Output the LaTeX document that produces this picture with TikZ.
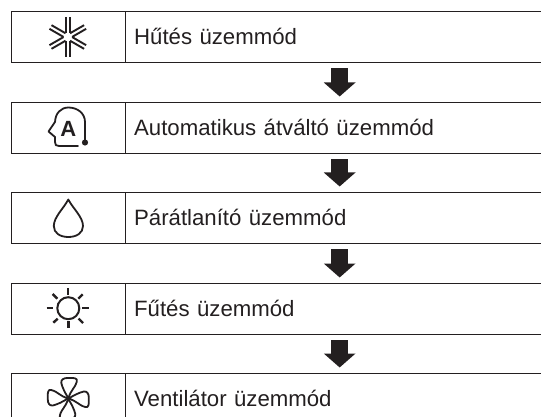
\documentclass[tikz,border=0pt]{standalone}
\usepackage{fontspec}
\setmainfont{Liberation Sans}
\usetikzlibrary{arrows.meta}
\definecolor{ink}{HTML}{231F20}
\tikzset{
  iconcell/.style={draw=ink,line width=1.3pt,minimum width=113.5pt,minimum height=51pt,inner sep=0pt,anchor=north west},
  labelcell/.style={draw=ink,line width=1.3pt,minimum height=51pt,text width=411pt,inner sep=9pt,align=left,anchor=north west,
    text height=16pt,text depth=0.6pt,font=\fontsize{22.2pt}{24pt}\selectfont,text=ink},
  flowarrow/.style={draw=ink,line width=17pt,-{Triangle[length=14pt,width=31pt]},shorten >=0pt},
  iconline/.style={draw=ink,line width=1.8pt,line join=round,line cap=round},
  ray/.style={draw=ink,line width=2.9pt},
}
\begin{document}
\begin{tikzpicture}[x=1pt,y=-1pt]
\useasboundingbox (0,0) rectangle (541,417);
\clip (0,0) rectangle (541,417);
\foreach \n/\yy/\t in {1/11/Hűtés üzemmód,2/102/Automatikus átváltó üzemmód,3/192/Párátlanító üzemmód,4/283/Fűtés üzemmód,5/373/Ventilátor üzemmód}{
  \node[iconcell] (icon\n) at (11,\yy) {};
  \node[labelcell] (label\n) at (124.5,\yy) {\t};
}
\foreach \a/\b in {1/2,2/3,3/4,4/5}{
  \draw[flowarrow] ([yshift=-5pt]label\a.south) -- ([yshift=5.5pt]label\b.north);
}
% snowflake
\begin{scope}[shift={(67.8,37)}]
  \foreach \r in {30,90,150}{
    \begin{scope}[rotate=\r]
      \foreach \o in {-2.1,2.1}{
        \draw[draw=ink,line width=1.9pt] (-20,\o) -- (-3.8,\o) (3.8,\o) -- (20,\o);
      }
    \end{scope}
  }
\end{scope}
% auto
\draw[iconline] (85,142) -- (85,122) .. controls (85,113) and (77,107.5) .. (68.5,107.5)
  .. controls (61,107.5) and (55.5,113) .. (55,122) -- (48.5,131.5) -- (55,137) -- (55,142)
  .. controls (55,145) and (56,146) .. (59,146) -- (78,146);
\fill[ink] (85,142.5) circle (3.1);
\node[font=\bfseries\fontsize{22pt}{24pt}\selectfont,text=ink,inner sep=0pt] (autoA) at (68.3,129) {A};
% drop
\draw[iconline] (68.3,199.5) .. controls (64,208) and (53.8,217) .. (53.8,226)
  .. controls (53.8,233) and (60,237) .. (68.3,237)
  .. controls (76.6,237) and (83,233) .. (83,226)
  .. controls (83,217) and (72.6,208) .. (68.3,199.5) -- cycle;
% sun
\draw[draw=ink,line width=2pt] (68.3,308.2) circle (11);
\draw[ray] (68,288) -- (68,295) (68.5,321) -- (68.5,328) (46.5,308) -- (53.3,308) (82,308) -- (88.8,308);
\draw[draw=ink,line width=2.4pt] (52.7,294) -- (57.3,298.7) (82.7,294.3) -- (78.3,298.7)
  (53.3,322.7) -- (57.7,318.7) (83,323) -- (78.5,318.5);
% fan
\begin{scope}[shift={(68.3,398.5)}]
  \foreach \r in {0,90,180,270}{
    \begin{scope}[rotate=\r]
      \draw[iconline] (0,-0.5) .. controls (-3,-5) and (-6,-11) .. (-7,-15.5)
        .. controls (-7.5,-19) and (-4.5,-20.5) .. (-1,-20.5)
        .. controls (3,-20.5) and (7,-21) .. (8.5,-19)
        .. controls (9,-16) and (6.5,-12) .. (5,-10)
        .. controls (3,-7) and (1,-4) .. (0,-0.5);
    \end{scope}
  }
\end{scope}
\end{tikzpicture}
\end{document}
